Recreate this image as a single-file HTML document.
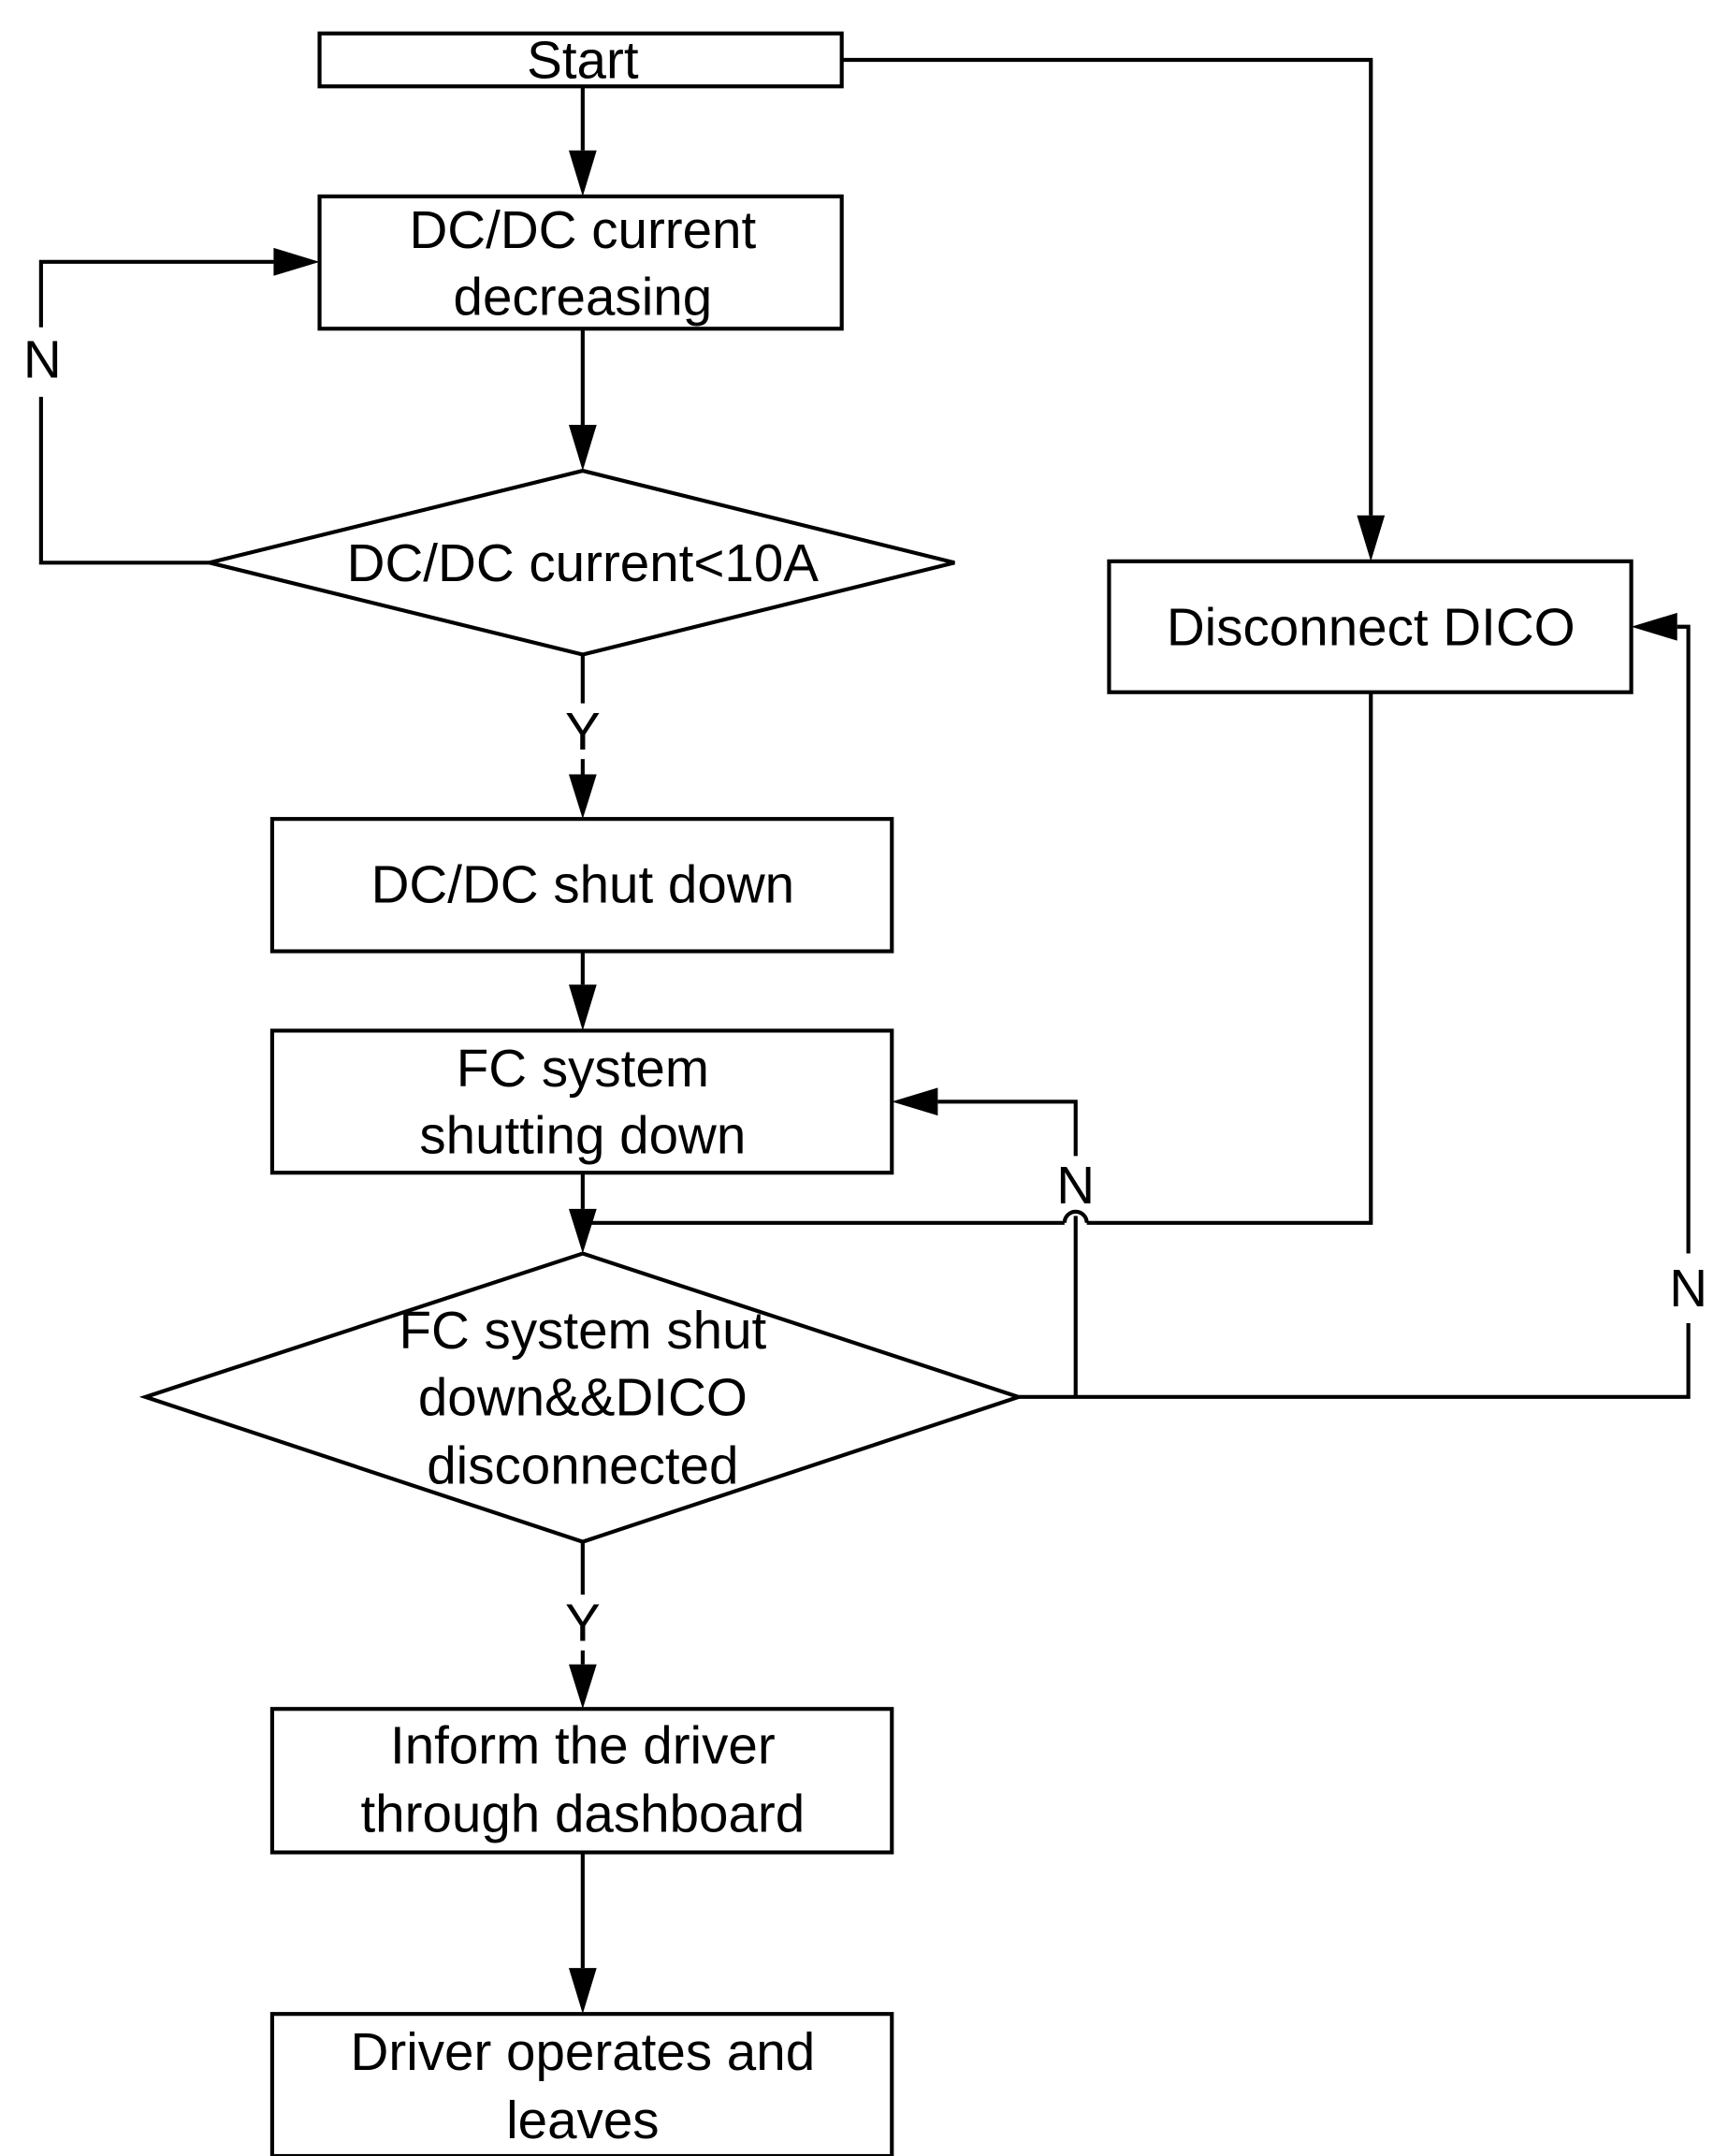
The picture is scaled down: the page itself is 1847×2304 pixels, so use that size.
<!DOCTYPE html>
<html><head><style>
html,body{margin:0;padding:0;background:#fff;}
svg{display:block;}
text{font-family:"Liberation Sans",Arial,sans-serif;font-size:38px;fill:#000;text-anchor:middle;dominant-baseline:central;}
</style></head><body>
<svg width="1847" height="2304" viewBox="0 0 1240 1548" xmlns="http://www.w3.org/2000/svg">
<g fill="none" stroke="#000" stroke-width="2.8">
<rect x="229" y="24" width="375" height="38"/>
<rect x="229" y="141" width="375" height="95"/>
<polygon points="150,404 418,338 685,404 418,470"/>
<rect x="195" y="588" width="445" height="95"/>
<rect x="195" y="740" width="445" height="102"/>
<polygon points="104,1003 418,900 731,1003 418,1107"/>
<rect x="195" y="1227" width="445" height="103"/>
<rect x="195" y="1446" width="445" height="102"/>
<rect x="796" y="403" width="375" height="94"/>
<line x1="418" y1="62" x2="418" y2="108"/>
<line x1="418" y1="236" x2="418" y2="305"/>
<polyline points="150,404 29,404 29,285"/>
<polyline points="29,235 29,188 196,188"/>
<line x1="418" y1="470" x2="418" y2="505"/>
<line x1="418" y1="545" x2="418" y2="556"/>
<line x1="418" y1="683" x2="418" y2="707"/>
<line x1="418" y1="842" x2="418" y2="868"/>
<line x1="418" y1="1107" x2="418" y2="1145"/>
<line x1="418" y1="1185" x2="418" y2="1195"/>
<line x1="418" y1="1330" x2="418" y2="1413"/>
<polyline points="604,43 984,43 984,370"/>
<polyline points="984,497 984,878 780,878"/>
<path d="M780,878 A8,8 0 0 0 764,878"/>
<line x1="764" y1="878" x2="418" y2="878"/>
<polyline points="731,1003 1212,1003 1212,950"/>
<polyline points="1212,900 1212,450 1204,450"/>
<polyline points="772,1003 772,873"/>
<polyline points="772,830 772,791 673,791"/>
</g>
<g fill="#000">
<polygon points="418,141 408,108 428,108"/>
<polygon points="418,338 408,305 428,305"/>
<polygon points="229,188 196,178 196,198"/>
<polygon points="418,588 408,556 428,556"/>
<polygon points="418,740 408,707 428,707"/>
<polygon points="418,900 408,868 428,868"/>
<polygon points="418,1227 408,1195 428,1195"/>
<polygon points="418,1446 408,1413 428,1413"/>
<polygon points="984,403 974,370 994,370"/>
<polygon points="1171,450 1204,440 1204,460"/>
<polygon points="640,791 673,781 673,801"/>
</g>
<text x="418" y="43">Start</text>
<text x="418" y="165">DC/DC current</text>
<text x="418" y="213">decreasing</text>
<text x="418" y="404">DC/DC current&lt;10A</text>
<text x="30" y="258">N</text>
<text x="418" y="525">Y</text>
<text x="418" y="635">DC/DC shut down</text>
<text x="418" y="767">FC system</text>
<text x="418" y="815">shutting down</text>
<text x="772" y="851">N</text>
<text x="418" y="955">FC system shut</text>
<text x="418" y="1003">down&amp;&amp;DICO</text>
<text x="418" y="1052">disconnected</text>
<text x="1212" y="925">N</text>
<text x="418" y="1165">Y</text>
<text x="418" y="1253">Inform the driver</text>
<text x="418" y="1302">through dashboard</text>
<text x="418" y="1473">Driver operates and</text>
<text x="418" y="1522">leaves</text>
<text x="984" y="450">Disconnect DICO</text>
</svg>
</body></html>
